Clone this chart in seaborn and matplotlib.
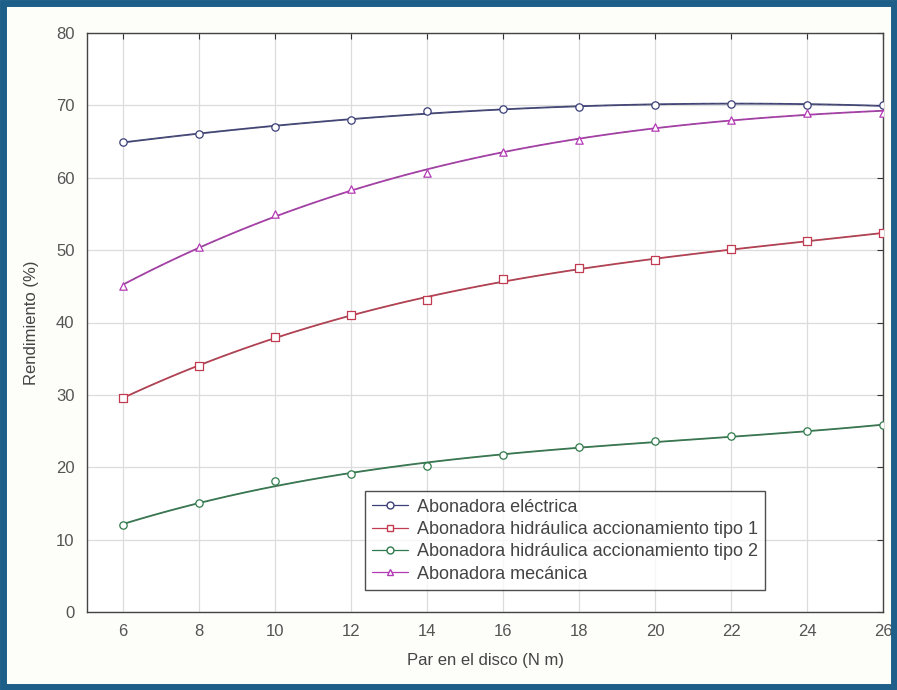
import numpy as np
import pandas as pd
import matplotlib
matplotlib.use("Agg")
import matplotlib.pyplot as plt
import seaborn as sns
from matplotlib.lines import Line2D
from matplotlib.patches import Rectangle

# Data
par = [6, 8, 10, 12, 14, 16, 18, 20, 22, 24, 26]
electrica = [65.0, 66.0, 67.0, 68.0, 69.2, 69.5, 69.8, 70.1, 70.2, 70.1, 70.0]
hidraulica_1 = [29.6, 34.0, 38.0, 41.0, 43.1, 46.0, 47.5, 48.6, 50.1, 51.2, 52.4]
hidraulica_2 = [12.0, 15.0, 18.1, 19.0, 20.2, 21.7, 22.8, 23.6, 24.3, 25.0, 25.8]
mecanica = [45.0, 50.5, 55.0, 58.4, 60.6, 63.5, 65.2, 67.0, 68.0, 69.0, 69.0]

series = [
    ("Abonadora eléctrica", electrica, "#3b3f78", "o"),
    ("Abonadora hidráulica accionamiento tipo 1", hidraulica_1, "#c23b50", "s"),
    ("Abonadora hidráulica accionamiento tipo 2", hidraulica_2, "#2f7a4c", "o"),
    ("Abonadora mecánica", mecanica, "#b23ab4", "^"),
]

sns.set_style("white")
plt.rcParams['font.family'] = ['Liberation Sans', 'DejaVu Sans']

fig = plt.figure(figsize=(8.97, 6.90), dpi=100)
fig.patch.set_facecolor("#fdfdf9")
ax = fig.add_axes([87 / 897, 1 - 612 / 690, 796 / 897, 579 / 690])
ax.set_facecolor("white")

handles = []
for name, vals, col, mk in series:
    df = pd.DataFrame({"par": par, "rend": vals})
    sns.regplot(data=df, x="par", y="rend", order=3, ci=None, scatter=False,
                truncate=True, ax=ax, line_kws={"color": col, "lw": 1.3})
    sns.regplot(data=df, x="par", y="rend", order=3, ci=None, scatter=False,
                truncate=True, ax=ax,
                line_kws={"color": "#666666", "lw": 0.7, "ls": (0, (6, 4)), "alpha": 0.6})
    sns.scatterplot(data=df, x="par", y="rend", marker=mk, s=28, ax=ax,
                    facecolor="white", edgecolor=col, linewidth=0.9, zorder=5)
    handles.append(Line2D([0], [0], color=col, lw=0.9, marker=mk, markersize=5,
                          markerfacecolor="white", markeredgecolor=col))

ax.set_xlim(5.05, 26.0)
ax.set_ylim(0, 80)
ax.set_xticks(par)
ax.set_yticks(range(0, 81, 10))
ax.grid(True, color="#dcdcdc", ls="-", lw=0.9)
ax.tick_params(direction="in", length=4, top=True, right=True, labelsize=12,
               colors="#333333", labelcolor="#555555", pad=9)
for sp in ax.spines.values():
    sp.set_color("#444444")
    sp.set_linewidth(1.0)

ax.set_xlabel("Par en el disco (N m)", fontsize=12, color="#444444", labelpad=10)
ax.set_ylabel("Rendimiento (%)", fontsize=12, color="#444444", labelpad=12)

leg = ax.legend(handles, [s[0] for s in series], loc="lower left",
                bbox_to_anchor=(0.349, 0.038), frameon=True, fancybox=False,
                fontsize=13, handlelength=2.0, handletextpad=0.5,
                borderpad=0.4, labelspacing=0.3, borderaxespad=0)
leg.get_frame().set_edgecolor("#222222")
leg.get_frame().set_linewidth(1.0)
for t in leg.get_texts():
    t.set_color("#444444")

# blue frame around the picture
fig.patches.append(Rectangle((0.003, 0.004), 0.994, 0.992, transform=fig.transFigure,
                             fill=False, edgecolor="#1d5f88", linewidth=5))

fig.savefig("out.png", dpi=100, facecolor=fig.get_facecolor())
